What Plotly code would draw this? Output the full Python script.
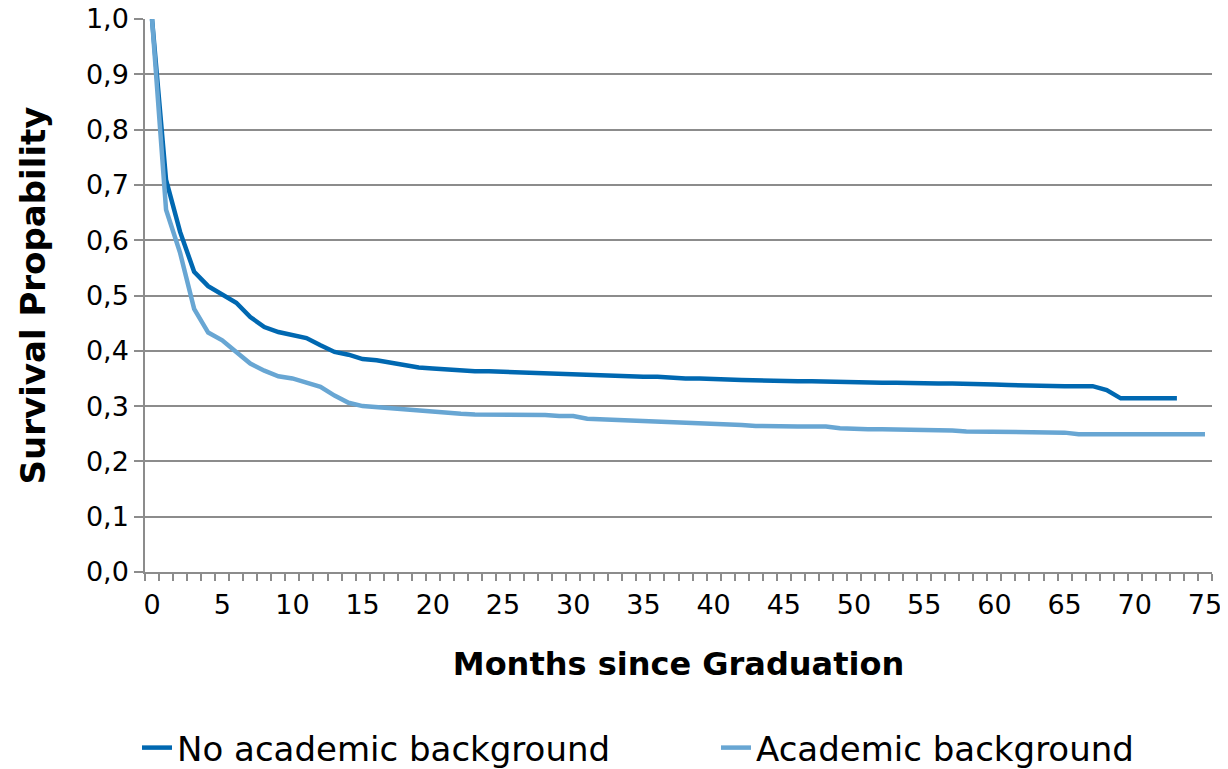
import plotly.graph_objects as go

months_no_acad = list(range(0, 74))
no_academic = [1.0, 0.709, 0.615, 0.543, 0.517, 0.503, 0.487, 0.461, 0.443, 0.434,
               0.429, 0.423, 0.410, 0.398, 0.393, 0.385, 0.383, 0.378, 0.374, 0.370,
               0.368, 0.366, 0.365, 0.363, 0.363, 0.362, 0.360, 0.359, 0.359, 0.358,
               0.357, 0.355, 0.355, 0.353, 0.353, 0.353, 0.353, 0.351, 0.350, 0.350,
               0.350, 0.348, 0.347, 0.346, 0.345, 0.345, 0.345, 0.345, 0.344, 0.344,
               0.342, 0.342, 0.342, 0.342, 0.341, 0.341, 0.341, 0.341, 0.341, 0.341,
               0.339, 0.338, 0.337, 0.336, 0.336, 0.336, 0.336, 0.336, 0.329, 0.314,
               0.314, 0.314, 0.314, 0.314]

months_acad = list(range(0, 76))
academic = [1.0, 0.655, 0.577, 0.476, 0.433, 0.419, 0.398, 0.377, 0.364, 0.354,
            0.350, 0.342, 0.335, 0.319, 0.306, 0.300, 0.298, 0.296, 0.292, 0.290,
            0.288, 0.288, 0.286, 0.285, 0.285, 0.285, 0.284, 0.284, 0.284, 0.282,
            0.282, 0.277, 0.276, 0.276, 0.274, 0.274, 0.273, 0.271, 0.269, 0.269,
            0.269, 0.267, 0.266, 0.264, 0.263, 0.263, 0.263, 0.263, 0.263, 0.260,
            0.258, 0.258, 0.258, 0.258, 0.258, 0.257, 0.257, 0.256, 0.254, 0.254,
            0.254, 0.254, 0.254, 0.252, 0.252, 0.252, 0.249, 0.249, 0.249, 0.249,
            0.249, 0.249, 0.249, 0.249, 0.249, 0.249]

x_tick_vals = list(range(0, 76, 5))
y_tick_vals = [i / 10 for i in range(0, 11)]

fig = go.Figure()
fig.add_trace(go.Scatter(x=months_no_acad, y=no_academic, mode="lines",
                         name="No academic background", legend="legend",
                         line=dict(color="#0068B1", width=4.5)))
fig.add_trace(go.Scatter(x=months_acad, y=academic, mode="lines",
                         name="Academic background", legend="legend2",
                         line=dict(color="#68A6D3", width=4.5)))

W, H = 1220, 761  # page body adds an 8px offset
grid = "#8C8C8C"
leg_common = dict(orientation="h", xref="container", yref="container",
                  xanchor="left", y=1 - 740 / H, yanchor="middle",
                  font=dict(size=34, family="DejaVu Sans", color="black"),
                  bgcolor="rgba(0,0,0,0)")
fig.update_layout(
    width=W, height=H,
    margin=dict(l=137, r=16, t=11, b=197),
    plot_bgcolor="white", paper_bgcolor="white",
    separators=",.",
    font=dict(family="DejaVu Sans", color="black"),
    showlegend=True,
    legend=dict(x=129 / W, **leg_common),
    legend2=dict(x=708 / W, **leg_common),
    xaxis=dict(
        range=[-0.5, 75.5], tickmode="array", tickvals=x_tick_vals,
        ticks="", showgrid=False, zeroline=False, automargin=False,
        showline=True, linecolor=grid, linewidth=1.5,
        tickfont=dict(size=27), ticklabelstandoff=8,
        ticklabeloverflow="allow",
        minor=dict(tickmode="linear", tick0=-0.5, dtick=1, ticks="outside",
                   ticklen=7, tickcolor=grid, tickwidth=1.5, showgrid=False),
        title=dict(text="<b>Months since Graduation</b>", font=dict(size=32),
                   standoff=33),
    ),
    yaxis=dict(
        range=[0, 1.0], tickmode="array", tickvals=y_tick_vals,
        tickformat=".1f", ticks="outside", ticklen=9, tickcolor=grid,
        tickwidth=1.5, showgrid=True, gridcolor=grid, gridwidth=1.5,
        zeroline=False, showline=True, linecolor=grid, linewidth=1.5,
        automargin=False, ticklabeloverflow="allow",
        tickfont=dict(size=27), ticklabelstandoff=0,
        title=dict(text="<b>Survival Propability</b>", font=dict(size=34),
                   standoff=30),
    ),
)

fig.write_html("out.html")
